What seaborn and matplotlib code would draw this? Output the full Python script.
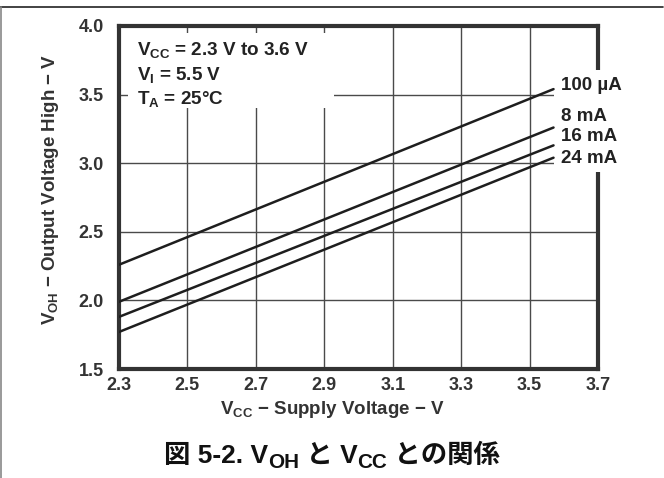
import matplotlib
matplotlib.use("Agg")
import matplotlib.pyplot as plt
import seaborn as sns
import pandas as pd
from matplotlib.patches import Rectangle
from matplotlib.lines import Line2D

# ---- data ----
vcc = [2.3, 3.57]
series_names = ["100 µA", "8 mA", "16 mA", "24 mA"]
voh_100ua = [2.26, 3.54]
voh_8ma = [1.99, 3.26]
voh_16ma = [1.88, 3.13]
voh_24ma = [1.77, 3.04]
x_ticks = [2.3, 2.5, 2.7, 2.9, 3.1, 3.3, 3.5, 3.7]
y_ticks = [1.5, 2.0, 2.5, 3.0, 3.5, 4.0]

rows = []
for name, vals in zip(series_names, [voh_100ua, voh_8ma, voh_16ma, voh_24ma]):
    for x, y in zip(vcc, vals):
        rows.append({"VCC": x, "VOH": y, "IOH": name})
df = pd.DataFrame(rows)

sns.set_theme(style="white")
plt.rcParams["font.family"] = ["Liberation Sans", "Noto Sans CJK JP", "DejaVu Sans"]
plt.rcParams["font.weight"] = "bold"
plt.rcParams["mathtext.fontset"] = "custom"
plt.rcParams["mathtext.rm"] = "Liberation Sans:bold"
plt.rcParams["mathtext.it"] = "Liberation Sans:bold"
plt.rcParams["mathtext.bf"] = "Liberation Sans:bold"

fig = plt.figure(figsize=(6.64, 4.78), dpi=100)
ax = fig.add_axes([119/664, 1-369/478, (598-119)/664, (369-26)/478])

sns.lineplot(data=df, x="VCC", y="VOH", hue="IOH",
             palette={n: "#1e1e1e" for n in series_names},
             linewidth=1.8, legend=False, ax=ax, zorder=4)

ax.set_xlim(2.3, 3.7)
ax.set_ylim(1.5, 4.0)
ax.set_xticks(x_ticks)
ax.set_yticks(y_ticks)
ax.set_xticklabels([f"{t:.1f}" for t in x_ticks])
ax.set_yticklabels([f"{t:.1f}" for t in y_ticks])
ax.tick_params(axis="both", length=0, labelsize=13, labelcolor="#333333")
ax.tick_params(axis="x", pad=6)
ax.tick_params(axis="y", pad=11)
for lab in ax.get_xticklabels() + ax.get_yticklabels():
    lab.set_fontweight("bold")

ax.grid(True, color="#4a4a4a", linewidth=1.0)
ax.set_axisbelow(True)
for sp in ax.spines.values():
    sp.set_color("#333333")
    sp.set_linewidth(3)

ax.set_xlabel(r"V$_{\mathrm{CC}}$ − Supply Voltage − V", fontsize=13.5,
              fontweight="bold", color="#333333")
ax.set_ylabel(r"V$_{\mathrm{OH}}$ − Output Voltage High − V", fontsize=13.5,
              fontweight="bold", color="#333333")
ax.xaxis.set_label_coords((332-119)/479, (369-410)/343)
ax.yaxis.set_label_coords((51-119)/479, (369-189)/343)
ax.xaxis.label.set_va("center")
ax.yaxis.label.set_va("center")

# white box behind conditions text
ax.add_patch(Rectangle((0.019, 0.761), 0.43, 0.219, transform=ax.transAxes,
                       facecolor="white", edgecolor="none", zorder=3))
cond_texts = [r"V$_{\mathrm{CC}}$ = 2.3 V to 3.6 V", r"V$_{\mathrm{I}}$ = 5.5 V",
              r"T$_{\mathrm{A}}$ = 25°C"]
for t, yy in zip(cond_texts, [0.93, 0.857, 0.787]):
    ax.text(0.037, yy, t, transform=ax.transAxes, fontsize=13.6,
            fontweight="bold", color="#222222", va="center", zorder=5)

# white box behind curve labels (covers right spine)
ax.add_patch(Rectangle((0.908, 0.574), 0.2, 0.298, transform=ax.transAxes,
                       facecolor="white", edgecolor="none", zorder=3.5, clip_on=False))
label_y = [3.563, 3.344, 3.198, 3.031]
for name, ly in zip(series_names, label_y):
    ax.text(3.592, ly, name, fontsize=13.5, fontweight="bold", color="#222222",
            va="center", ha="left", zorder=5, clip_on=False)

# figure caption, assembled from pieces so CJK glyphs fall back properly
cap_pieces = [("図 5-2. V", False), ("OH", True), (" と V", False),
              ("CC", True), (" との関係", False)]
cap_size = 19
cap_y = 1 - 463/478
renderer = fig.canvas.get_renderer()
tmp = []
for txt, sub in cap_pieces:
    size = cap_size * 0.78 if sub else cap_size
    t = fig.text(0, cap_y - (5/478 if sub else 0), txt, fontsize=size,
                 fontweight="bold", color="#111111", va="baseline", ha="left")
    tmp.append(t)
widths = [t.get_window_extent(renderer).width for t in tmp]
total = sum(widths)
x0 = 332 - total/2
for t, w in zip(tmp, widths):
    t.set_x(x0/664)
    x0 += w

# frame lines
fig.add_artist(Line2D([0, 663/664], [1-7/478, 1-7/478], transform=fig.transFigure,
                      color="#222222", linewidth=1.2))
fig.add_artist(Line2D([1/664, 1/664], [1-7/478, 0], transform=fig.transFigure,
                      color="#888888", linewidth=1.2))

fig.savefig("out.png", dpi=100)
